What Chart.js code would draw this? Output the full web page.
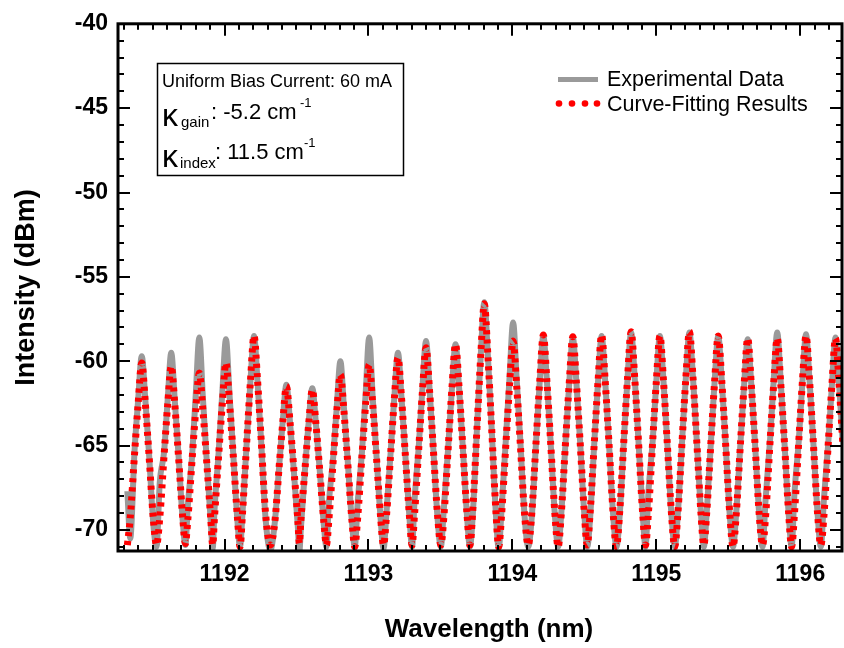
<!DOCTYPE html>
<html><head><meta charset="utf-8">
<script src="https://cdn.jsdelivr.net/npm/chart.js@4/dist/chart.umd.min.js"></script>
<style>html,body{margin:0;padding:0;background:#fff}canvas{display:block}</style>
</head><body>
<canvas id="c" width="844" height="648"></canvas>
<script>
// Wavelength samples (nm), one group per resonance: peak-0.08, -0.05, -0.025, peak, +0.025, +0.05, +0.08, valley
const wavelength = [
1191.325,
1191.345,1191.375,1191.400,1191.425,1191.450,1191.475,1191.505,1191.528,
1191.550,1191.580,1191.605,1191.630,1191.655,1191.680,1191.710,1191.728,
1191.745,1191.775,1191.800,1191.825,1191.850,1191.875,1191.905,1191.918,
1191.930,1191.960,1191.985,1192.010,1192.035,1192.060,1192.090,1192.108,
1192.125,1192.155,1192.180,1192.205,1192.230,1192.255,1192.285,1192.318,
1192.350,1192.380,1192.405,1192.430,1192.455,1192.480,1192.510,1192.520,
1192.530,1192.560,1192.585,1192.610,1192.635,1192.660,1192.690,1192.708,
1192.725,1192.755,1192.780,1192.805,1192.830,1192.855,1192.885,1192.905,
1192.925,1192.955,1192.980,1193.005,1193.030,1193.055,1193.085,1193.105,
1193.125,1193.155,1193.180,1193.205,1193.230,1193.255,1193.285,1193.303,
1193.320,1193.350,1193.375,1193.400,1193.425,1193.450,1193.480,1193.503,
1193.525,1193.555,1193.580,1193.605,1193.630,1193.655,1193.685,1193.705,
1193.725,1193.755,1193.780,1193.805,1193.830,1193.855,1193.885,1193.905,
1193.925,1193.955,1193.980,1194.005,1194.030,1194.055,1194.085,1194.110,
1194.135,1194.165,1194.190,1194.215,1194.240,1194.265,1194.295,1194.318,
1194.340,1194.370,1194.395,1194.420,1194.445,1194.470,1194.500,1194.520,
1194.540,1194.570,1194.595,1194.620,1194.645,1194.670,1194.700,1194.723,
1194.745,1194.775,1194.800,1194.825,1194.850,1194.875,1194.905,1194.925,
1194.945,1194.975,1195.000,1195.025,1195.050,1195.075,1195.105,1195.128,
1195.150,1195.180,1195.205,1195.230,1195.255,1195.280,1195.310,1195.330,
1195.350,1195.380,1195.405,1195.430,1195.455,1195.480,1195.510,1195.533,
1195.555,1195.585,1195.610,1195.635,1195.660,1195.685,1195.715,1195.738,
1195.760,1195.790,1195.815,1195.840,1195.865,1195.890,1195.920,1195.940,
1195.960,1195.990,1196.015,1196.040,1196.065,1196.090,1196.120,1196.143,
1196.165,1196.195,1196.220,1196.245,1196.270,1196.295,1196.325
];

// Curve-fitting results (dBm)
const fitIntensity = [
-70.9,
-69.3,-65.5,-62.5,-60.1,-62.5,-65.5,-69.3,-70.9,
-69.3,-65.6,-62.6,-60.3,-62.6,-65.6,-69.3,-70.8,
-69.4,-65.8,-62.9,-60.7,-62.9,-65.8,-69.4,-70.9,
-69.3,-65.5,-62.5,-60.1,-62.5,-65.5,-69.3,-71.0,
-69.0,-64.7,-61.2,-58.5,-61.2,-64.7,-69.0,-70.9,
-69.5,-66.2,-63.6,-61.5,-63.6,-66.2,-69.5,-70.8,
-69.5,-66.3,-63.7,-61.7,-63.7,-66.3,-69.5,-70.9,
-69.4,-65.9,-63.0,-60.8,-63.0,-65.9,-69.4,-71.0,
-69.3,-65.6,-62.6,-60.2,-62.6,-65.6,-69.3,-70.9,
-69.2,-65.4,-62.2,-59.8,-62.2,-65.4,-69.2,-70.9,
-69.1,-65.1,-61.8,-59.2,-61.8,-65.1,-69.1,-70.9,
-69.1,-65.0,-61.6,-59.0,-61.6,-65.0,-69.1,-70.9,
-68.8,-63.8,-59.7,-56.6,-59.7,-63.8,-68.8,-71.0,
-69.1,-64.9,-61.5,-58.8,-61.5,-64.9,-69.1,-70.9,
-69.0,-64.7,-61.2,-58.45,-61.2,-64.7,-69.0,-71.0,
-69.0,-64.7,-61.3,-58.55,-61.3,-64.7,-69.0,-70.9,
-69.0,-64.7,-61.2,-58.45,-61.2,-64.7,-69.0,-71.0,
-69.0,-64.6,-61.0,-58.25,-61.0,-64.6,-69.0,-70.9,
-69.0,-64.7,-61.2,-58.5,-61.2,-64.7,-69.0,-71.0,
-69.0,-64.6,-61.0,-58.25,-61.0,-64.6,-69.0,-70.9,
-69.0,-64.7,-61.2,-58.5,-61.2,-64.7,-69.0,-71.0,
-69.1,-64.8,-61.4,-58.65,-61.4,-64.8,-69.1,-70.9,
-69.1,-64.8,-61.4,-58.65,-61.4,-64.8,-69.1,-71.0,
-69.0,-64.7,-61.2,-58.5,-61.2,-64.7,-69.0,-70.9,
-69.1,-64.8,-61.4,-58.65,-61.4,-64.8,-69.1
];

// Experimental data (dBm)
const expIntensity = [
-67.7,
-70.5,-65.3,-62.3,-59.7,-62.3,-65.4,-69.6,-71.0,
-67.2,-65.4,-62.3,-59.5,-62.4,-65.5,-69.5,-70.9,
-68.6,-65.6,-62.0,-58.6,-62.2,-65.7,-69.6,-71.1,
-68.9,-65.3,-61.8,-58.7,-62.0,-65.4,-69.5,-71.0,
-69.0,-64.7,-61.2,-58.5,-61.3,-64.8,-69.3,-71.2,
-69.5,-66.2,-63.5,-61.4,-63.6,-66.3,-69.9,-71.3,
-70.0,-66.3,-63.6,-61.6,-63.7,-66.3,-69.7,-71.0,
-68.4,-65.7,-62.7,-60.0,-62.8,-65.8,-69.5,-71.0,
-68.4,-65.4,-62.0,-58.6,-62.2,-65.5,-69.4,-71.1,
-69.0,-65.3,-62.1,-59.5,-62.2,-65.4,-69.3,-71.0,
-68.3,-65.0,-61.6,-58.8,-61.7,-65.1,-69.3,-71.0,
-68.6,-65.0,-61.6,-59.0,-61.6,-65.0,-69.2,-71.0,
-69.1,-63.8,-59.7,-56.5,-59.7,-63.8,-69.0,-71.1,
-68.8,-64.6,-61.0,-57.7,-61.1,-64.7,-69.2,-71.0,
-69.2,-64.7,-61.2,-58.5,-61.2,-64.7,-69.1,-71.0,
-69.0,-64.7,-61.3,-58.6,-61.3,-64.7,-69.1,-71.0,
-69.3,-64.7,-61.2,-58.5,-61.2,-64.7,-69.1,-71.0,
-69.2,-64.6,-61.0,-58.3,-61.0,-64.6,-69.0,-71.0,
-67.8,-64.7,-61.2,-58.5,-61.2,-64.7,-69.1,-71.0,
-69.0,-64.6,-61.0,-58.3,-61.0,-64.6,-69.0,-71.0,
-69.0,-64.7,-61.2,-58.5,-61.2,-64.7,-69.1,-71.0,
-69.0,-64.8,-61.4,-58.7,-61.4,-64.8,-69.1,-71.0,
-68.1,-64.7,-61.2,-58.3,-61.3,-64.8,-69.1,-71.0,
-67.8,-64.7,-61.2,-58.4,-61.2,-64.7,-69.0,-71.0,
-68.1,-64.8,-61.4,-58.6,-61.4,-64.8,-69.1
];

const xTickValues = [1192, 1193, 1194, 1195, 1196];
const yTickValues = [-70, -65, -60, -55, -50, -45, -40];
const seriesNames = ['Experimental Data', 'Curve-Fitting Results'];
const xTitle = 'Wavelength (nm)';
const yTitle = 'Intensity (dBm)';
const noteTitle = 'Uniform Bias Current: 60 mA';
const kappaSymbol = 'κ';
const gainSub = 'gain';
const gainValue = ': -5.2 cm';
const indexSub = 'index';
const indexValue = ': 11.5 cm';
const invExp = '-1';

const FONT = '"Liberation Sans", Arial, sans-serif';

const framePlugin = {
  id: 'frame',
  afterDatasetsDraw(chart) {
    const {ctx, chartArea: a, scales: {x, y}} = chart;
    ctx.save();
    ctx.strokeStyle = '#000';
    ctx.lineWidth = 2;
    ctx.beginPath();
    for (let k = Math.ceil(x.min * 10); k <= Math.floor(x.max * 10); k++) {
      const px = Math.round(x.getPixelForValue(k / 10));
      const len = (k % 10 === 0) ? 12 : 6;
      ctx.moveTo(px, a.bottom); ctx.lineTo(px, a.bottom - len);
      ctx.moveTo(px, a.top); ctx.lineTo(px, a.top + len);
    }
    for (let v = Math.ceil(y.min); v <= Math.floor(y.max); v++) {
      const py = Math.round(y.getPixelForValue(v));
      const len = (v % 5 === 0) ? 12 : 6;
      ctx.moveTo(a.left, py); ctx.lineTo(a.left + len, py);
      ctx.moveTo(a.right, py); ctx.lineTo(a.right - len, py);
    }
    ctx.stroke();
    ctx.lineWidth = 3;
    ctx.strokeRect(a.left, a.top, a.right - a.left, a.bottom - a.top);
    ctx.restore();
  }
};

const notesPlugin = {
  id: 'notes',
  afterDraw(chart) {
    const ctx = chart.ctx;
    const ds = chart.data.datasets;
    ctx.save();
    // x-axis title (centred as in the reference)
    ctx.fillStyle = '#000';
    ctx.textAlign = 'center';
    ctx.textBaseline = 'middle';
    ctx.font = 'bold 26px ' + FONT;
    ctx.fillText(xTitle, 489, 630);
    // annotation box
    ctx.fillStyle = '#fff';
    ctx.fillRect(157, 63, 246, 112);
    ctx.strokeStyle = '#000';
    ctx.lineWidth = 1.5;
    ctx.strokeRect(157.5, 63.5, 246, 112);
    ctx.fillStyle = '#000';
    ctx.textAlign = 'left';
    ctx.textBaseline = 'alphabetic';
    ctx.font = '18px ' + FONT;
    ctx.fillText(noteTitle, 162, 87);
    ctx.font = '32px ' + FONT;
    ctx.fillText(kappaSymbol, 162, 126);
    ctx.fillText(kappaSymbol, 162, 167);
    ctx.font = '15px ' + FONT;
    ctx.fillText(gainSub, 181, 127);
    ctx.fillText(indexSub, 180, 168);
    ctx.font = '22px ' + FONT;
    ctx.fillText(gainValue, 211, 119);
    ctx.fillText(indexValue, 215, 159);
    ctx.font = '13px ' + FONT;
    ctx.fillText(invExp, 300, 107);
    ctx.fillText(invExp, 304, 147);
    // legend
    const gray = ds[1];
    const red = ds[0];
    ctx.strokeStyle = gray.borderColor;
    ctx.lineWidth = 5;
    ctx.beginPath(); ctx.moveTo(558, 79.5); ctx.lineTo(598, 79.5); ctx.stroke();
    ctx.fillStyle = red.borderColor;
    for (const cx of [559, 572, 585, 597]) {
      ctx.beginPath(); ctx.arc(cx, 103.5, 3.3, 0, Math.PI * 2); ctx.fill();
    }
    ctx.fillStyle = '#000';
    ctx.font = '21.5px ' + FONT;
    ctx.fillText(seriesNames[0], 607, 86);
    ctx.fillText(seriesNames[1], 607, 111);
    ctx.restore();
  }
};

new Chart(document.getElementById('c'), {
  type: 'line',
  data: {
    datasets: [
      {
        label: seriesNames[1],
        data: wavelength.map((w, i) => ({x: w, y: fitIntensity[i]})),
        borderColor: '#ff0000',
        borderWidth: 7,
        borderDash: [4, 5],
        borderCapStyle: 'butt',
        pointRadius: 0,
        fill: false,
        cubicInterpolationMode: 'monotone',
        order: 1
      },
      {
        label: seriesNames[0],
        data: wavelength.map((w, i) => ({x: w, y: expIntensity[i]})),
        borderColor: '#9a9a9a',
        borderWidth: 6,
        pointRadius: 0,
        fill: false,
        cubicInterpolationMode: 'monotone',
        order: 2
      }
    ]
  },
  options: {
    responsive: false,
    animation: false,
    devicePixelRatio: 1,
    layout: {padding: {top: 19, right: 2, left: 0, bottom: 0}},
    plugins: {legend: {display: false}, tooltip: {enabled: false}},
    scales: {
      x: {
        type: 'linear', min: 1191.26, max: 1196.29,
        afterBuildTicks: s => { s.ticks = xTickValues.map(v => ({value: v})); },
        afterFit: s => { s.height = 97; },
        grid: {display: false, drawTicks: false},
        border: {display: false},
        ticks: {padding: 10, color: '#000', maxRotation: 0, autoSkip: false,
          font: {family: FONT, size: 23, weight: 'bold'}, callback: v => String(v)},
        title: {display: false, text: xTitle}
      },
      y: {
        type: 'linear', min: -71.25, max: -40,
        afterBuildTicks: s => { s.ticks = yTickValues.map(v => ({value: v})); },
        afterFit: s => { s.width = 118; },
        grid: {display: false, drawTicks: false},
        border: {display: false},
        ticks: {padding: 10, color: '#000',
          font: {family: FONT, size: 23, weight: 'bold'}, callback: v => String(v)},
        title: {display: true, text: yTitle, color: '#000',
          font: {family: FONT, size: 27, weight: 'bold'}, padding: {top: 10, bottom: 0}}
      }
    }
  },
  plugins: [framePlugin, notesPlugin]
});
</script>
</body></html>
